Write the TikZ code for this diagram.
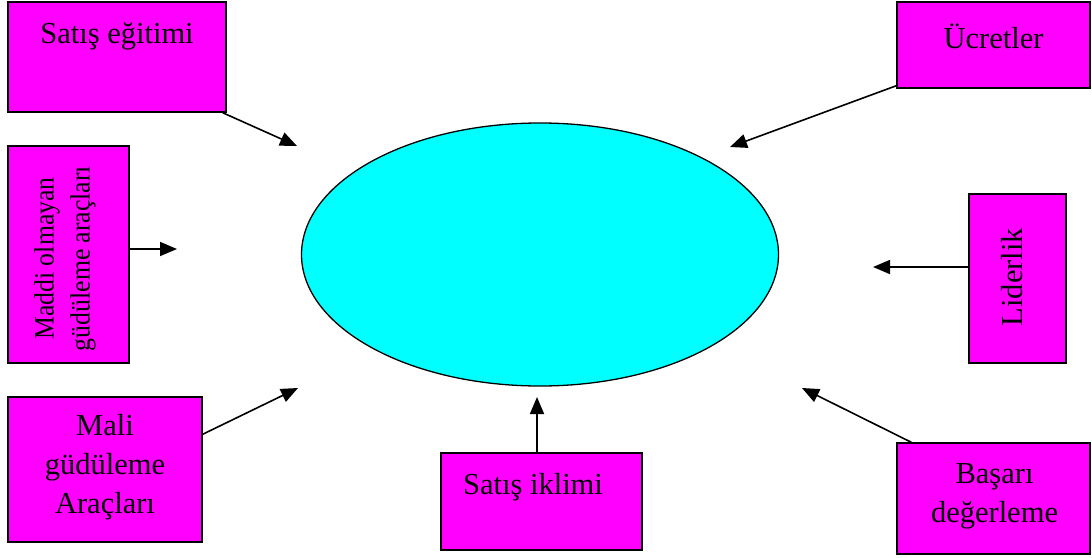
\documentclass[tikz,border=0pt]{standalone}
\usepackage{fontspec}
\setmainfont{Liberation Serif}
\usetikzlibrary{arrows.meta,calc,shapes.geometric}
\definecolor{boxmag}{HTML}{FF00FF}
\definecolor{ellcyan}{HTML}{00FFFF}
\begin{document}
\begin{tikzpicture}[x=1pt,y=-1pt,
  box/.style={draw=black,line width=1.5pt,fill=boxmag,rectangle,inner sep=0pt},
  lbl/.style={font=\fontsize{30.5}{39}\selectfont,align=center,inner sep=0pt},
  rlbl/.style={font=\fontsize{28}{36}\selectfont,align=center,inner sep=0pt,yscale=0.92,rotate=90},
  arr/.style={draw=black,line width=1.6pt,-{Triangle[length=17pt,width=14pt]}}]
\fill[white] (0,0) rectangle (1092,557);
\useasboundingbox (0,0) rectangle (1092,557);
% central ellipse
\node[draw=black,line width=1.3pt,fill=ellcyan,ellipse,inner sep=0pt,minimum width=477pt,minimum height=263pt] (ell) at (540,254.5) {};
% boxes
\node[box,minimum width=218pt,minimum height=110pt,label={[lbl,yshift=21pt]center:Satış eğitimi}] (sat) at (117,57) {};
\node[box,minimum width=193pt,minimum height=86pt,label={[lbl,yshift=9pt]center:Ücretler}] (ucr) at (993.5,45) {};
\node[box,minimum width=121pt,minimum height=217pt,label={[xshift=-3.5pt,yshift=-4pt,rlbl]center:Maddi  olmayan\\güdüleme araçları}] (mad) at (68.5,254.5) {};
\node[box,minimum width=97pt,minimum height=169pt,label={[xshift=-5.5pt,yshift=1.5pt,lbl,rotate=90]center:Liderlik}] (lid) at (1017.5,278.5) {};
\node[box,minimum width=194pt,minimum height=145pt,label={[lbl,yshift=2pt]center:Mali\\güdüleme\\Araçları}] (mal) at (105,469.5) {};
\node[box,minimum width=201pt,minimum height=97pt,label={[lbl,xshift=-8.5pt,yshift=14pt]center:Satış iklimi}] (sik) at (541.5,501.5) {};
\node[box,minimum width=193pt,minimum height=111pt,label={[lbl,xshift=1pt,yshift=2pt]center:Başarı\\değerleme}] (bas) at (993.5,498.5) {};
% arrow tips
\coordinate (t1) at (297,146);
\coordinate (t2) at (730,147);
\coordinate (t3) at (177,249);
\coordinate (t4) at (873,267);
\coordinate (t5) at (298,388);
\coordinate (t6) at (537,397);
\coordinate (t7) at (802,388);
% arrows
\draw[arr] ([xshift=-4pt]sat.south east) -- (t1);
\draw[arr] ([yshift=3pt]ucr.south west) -- (t2);
\draw[arr] ([yshift=5.5pt]mad.east) -- (t3);
\draw[arr] ([yshift=11.5pt]lid.west) -- (t4);
\draw[arr] ([yshift=-38pt]mal.north east) -- (t5);
\draw[arr] ([xshift=-4.5pt]sik.north) -- (t6);
\draw[arr] ([xshift=15pt]bas.north west) -- (t7);
\end{tikzpicture}
\end{document}
